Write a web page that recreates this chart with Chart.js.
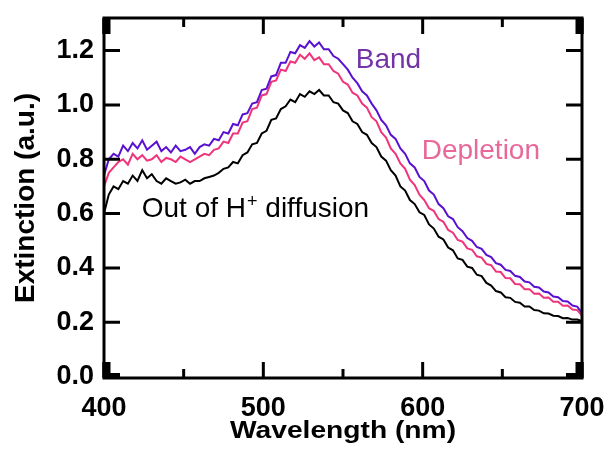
<!DOCTYPE html>
<html>
<head>
<meta charset="utf-8">
<script src="https://cdn.jsdelivr.net/npm/chart.js@4/dist/chart.umd.min.js"></script>
<style>
html,body{margin:0;padding:0;background:#fff;}
#wrap{width:605px;height:450px;}
</style>
</head>
<body>
<div id="wrap"><canvas id="c" width="605" height="450"></canvas></div>
<script>
// ---- data ----
const wavelengths = [
  400,403,406,409,412,415,418,421,424,427,
  430,433,436,439,442,445,448,451,454,457,
  460,463,466,469,472,475,478,481,484,487,
  490,493,496,499,502,505,508,511,514,517,
  520,523,526,529,532,535,538,541,544,547,
  550,553,556,559,562,565,568,571,574,577,
  580,583,586,589,592,595,598,601,604,607,
  610,613,616,619,622,625,628,631,634,637,
  640,643,646,649,652,655,658,661,664,667,
  670,673,676,679,682,685,688,691,694,697,
  700
];
const bandValues = [
  0.74,0.80,0.82,0.81,0.85,0.83,0.86,0.84,0.87,0.835,
  0.85,0.865,0.83,0.845,0.825,0.85,0.83,0.835,0.845,0.82,
  0.845,0.855,0.85,0.875,0.87,0.90,0.895,0.93,0.925,0.965,
  0.97,1.005,1.01,1.055,1.06,1.105,1.11,1.155,1.155,1.195,
  1.19,1.22,1.21,1.235,1.215,1.23,1.205,1.205,1.18,1.17,
  1.15,1.13,1.10,1.08,1.05,1.035,1.005,0.98,0.945,0.925,
  0.89,0.875,0.84,0.82,0.785,0.77,0.735,0.72,0.685,0.67,
  0.635,0.62,0.59,0.58,0.55,0.535,0.51,0.50,0.477,0.47,
  0.448,0.44,0.418,0.412,0.393,0.389,0.371,0.367,0.35,0.347,
  0.331,0.328,0.313,0.31,0.295,0.292,0.278,0.277,0.262,0.258,
  0.235
];
const depletionValues = [
  0.70,0.75,0.77,0.79,0.80,0.78,0.82,0.80,0.815,0.795,
  0.80,0.815,0.79,0.805,0.80,0.79,0.81,0.80,0.79,0.80,
  0.81,0.82,0.815,0.835,0.84,0.865,0.86,0.895,0.895,0.935,
  0.94,0.985,0.99,1.035,1.04,1.085,1.09,1.13,1.125,1.16,
  1.155,1.185,1.17,1.19,1.165,1.175,1.15,1.15,1.125,1.115,
  1.085,1.075,1.045,1.035,1.005,0.99,0.955,0.94,0.90,0.88,
  0.84,0.82,0.785,0.765,0.725,0.705,0.67,0.65,0.62,0.61,
  0.58,0.57,0.54,0.53,0.503,0.497,0.472,0.467,0.443,0.438,
  0.415,0.41,0.387,0.385,0.363,0.362,0.341,0.34,0.322,0.322,
  0.305,0.306,0.29,0.291,0.276,0.276,0.261,0.262,0.247,0.245,
  0.225
];
const outOfDiffusionValues = [
  0.60,0.67,0.70,0.69,0.72,0.71,0.74,0.72,0.76,0.73,
  0.745,0.72,0.71,0.73,0.72,0.71,0.715,0.725,0.71,0.72,
  0.72,0.73,0.735,0.74,0.75,0.765,0.77,0.79,0.785,0.815,
  0.825,0.855,0.86,0.895,0.905,0.945,0.95,0.985,0.995,1.02,
  1.01,1.04,1.03,1.05,1.04,1.055,1.035,1.035,1.01,1.005,
  0.98,0.97,0.94,0.93,0.90,0.89,0.86,0.845,0.81,0.795,
  0.76,0.74,0.70,0.685,0.65,0.635,0.605,0.595,0.56,0.545,
  0.515,0.505,0.475,0.465,0.435,0.43,0.405,0.40,0.375,0.37,
  0.345,0.335,0.315,0.31,0.292,0.29,0.275,0.272,0.258,0.258,
  0.245,0.243,0.233,0.232,0.224,0.223,0.215,0.216,0.21,0.21,
  0.205
];
const xMajorTicks = [400, 500, 600, 700];
const xMinorTicks = [450, 550, 650];
const yMajorTicks = [0.0, 0.2, 0.4, 0.6, 0.8, 1.0, 1.2];
const seriesNames = ['Band', 'Depletion', 'Out of H+ diffusion'];
const lineColors = ['#5a10d0', '#f0347c', '#000000'];
const labelColors = ['#7334a8', '#e8689a', '#000000'];
// label anchor positions in data units (left edge, text baseline)
const labelWavelengths = [558, 599.4, 423.7];
const labelExtinctions = [1.136, 0.801, 0.589];
const xTitle = 'Wavelength (nm)';
const yTitle = 'Extinction (a.u.)';

// ---- chart ----
const FONT = '"Liberation Sans", Arial, Helvetica, sans-serif';
function pts(vals){ return wavelengths.map((w,i)=>({x:w, y:vals[i]})); }

const framePlugin = {
  id: 'frameTicks',
  afterDatasetsDraw(chart){
    const ctx = chart.ctx;
    const {left, right, top, bottom} = chart.chartArea;
    const xs = chart.scales.x, ys = chart.scales.y;
    const MAJ = 16, MIN = 9;
    ctx.save();
    ctx.strokeStyle = '#000';
    ctx.fillStyle = '#000';
    ctx.lineWidth = 3;
    ctx.lineCap = 'butt';
    ctx.beginPath();
    xMajorTicks.forEach(v=>{
      const p = xs.getPixelForValue(v);
      ctx.moveTo(p, bottom); ctx.lineTo(p, bottom-MAJ);
      ctx.moveTo(p, top); ctx.lineTo(p, top+MAJ);
    });
    xMinorTicks.forEach(v=>{
      const p = xs.getPixelForValue(v);
      ctx.moveTo(p, bottom); ctx.lineTo(p, bottom-MIN);
      ctx.moveTo(p, top); ctx.lineTo(p, top+MIN);
    });
    yMajorTicks.forEach(v=>{
      const p = ys.getPixelForValue(v);
      ctx.moveTo(left, p); ctx.lineTo(left+MAJ, p);
      ctx.moveTo(right, p); ctx.lineTo(right-MAJ, p);
    });
    ctx.stroke();
    // thick edge ticks at the corners (as in the reference)
    ctx.fillRect(left-1.5, bottom-MAJ, 8, MAJ);
    ctx.fillRect(left-1.5, top, 8, MAJ);
    ctx.fillRect(right-6.5, bottom-MAJ, 8, MAJ);
    ctx.fillRect(right-6.5, top, 8, MAJ);
    ctx.fillRect(left, bottom-5, MAJ, 5);
    ctx.fillRect(right-MAJ, bottom-5, MAJ, 5);
    // frame
    ctx.strokeRect(left, top, right-left, bottom-top);

    // x axis title (slightly wide lettering as in the reference)
    ctx.fillStyle = '#000';
    ctx.font = 'bold 23.5px ' + FONT;
    ctx.textAlign = 'center';
    ctx.textBaseline = 'alphabetic';
    ctx.save();
    ctx.translate(343, 438);
    ctx.scale(1.2, 1);
    ctx.fillText(xTitle, 0, 0);
    ctx.restore();

    // annotations
    ctx.textBaseline = 'alphabetic';
    ctx.textAlign = 'left';
    seriesNames.forEach((name, i)=>{
      const px = xs.getPixelForValue(labelWavelengths[i]);
      const py = ys.getPixelForValue(labelExtinctions[i]);
      ctx.fillStyle = labelColors[i];
      ctx.font = '28px ' + FONT;
      if (name.indexOf('H+') >= 0) {
        const a = 'Out of H', b = ' diffusion';
        ctx.fillText(a, px, py);
        let w = ctx.measureText(a).width;
        ctx.font = '18px ' + FONT;
        ctx.fillText('+', px + w + 1, py - 10);
        w += ctx.measureText('+').width + 1;
        ctx.font = '28px ' + FONT;
        ctx.fillText(b, px + w, py);
      } else {
        ctx.fillText(name, px, py);
      }
    });
    ctx.restore();
  }
};

new Chart(document.getElementById('c'), {
  type: 'line',
  data: {
    datasets: [
      {label: seriesNames[0], data: pts(bandValues), borderColor: lineColors[0], borderWidth: 2, pointRadius: 0, tension: 0, fill: false},
      {label: seriesNames[1], data: pts(depletionValues), borderColor: lineColors[1], borderWidth: 2, pointRadius: 0, tension: 0, fill: false},
      {label: seriesNames[2], data: pts(outOfDiffusionValues), borderColor: lineColors[2], borderWidth: 2, pointRadius: 0, tension: 0, fill: false}
    ]
  },
  options: {
    responsive: false,
    animation: false,
    devicePixelRatio: 1,
    layout: {padding: {left: 0, right: 23, top: 18, bottom: 0}},
    plugins: {legend: {display: false}, tooltip: {enabled: false}},
    scales: {
      x: {
        type: 'linear', position: 'bottom', min: 400, max: 700,
        grid: {display: false, drawTicks: false},
        border: {display: false},
        afterBuildTicks: s => { s.ticks = xMajorTicks.map(v=>({value:v})); },
        afterFit: s => { s.height = 72; s.paddingLeft = 0; s.paddingRight = 0; s.paddingTop = 0; s.paddingBottom = 0; },
        ticks: {
          autoSkip: false, maxRotation: 0, padding: 14, color: '#000',
          font: {family: FONT, size: 27, weight: 'bold'},
          callback: v => String(v)
        },
        title: {display: false, text: xTitle}
      },
      y: {
        type: 'linear', position: 'left', min: -0.005, max: 1.32,
        grid: {display: false, drawTicks: false},
        border: {display: false},
        afterBuildTicks: s => { s.ticks = yMajorTicks.map(v=>({value:v})); },
        afterFit: s => { s.width = 104; s.paddingLeft = 0; s.paddingRight = 0; s.paddingTop = 0; s.paddingBottom = 0; },
        ticks: {
          autoSkip: false, padding: 10, color: '#000',
          font: {family: FONT, size: 27, weight: 'bold'},
          callback: v => Number(v).toFixed(1)
        },
        title: {
          display: true, text: yTitle, color: '#000',
          font: {family: FONT, size: 28, weight: 'bold'},
          padding: {top: 9, bottom: 0}
        }
      }
    }
  },
  plugins: [framePlugin]
});
</script>
</body>
</html>
